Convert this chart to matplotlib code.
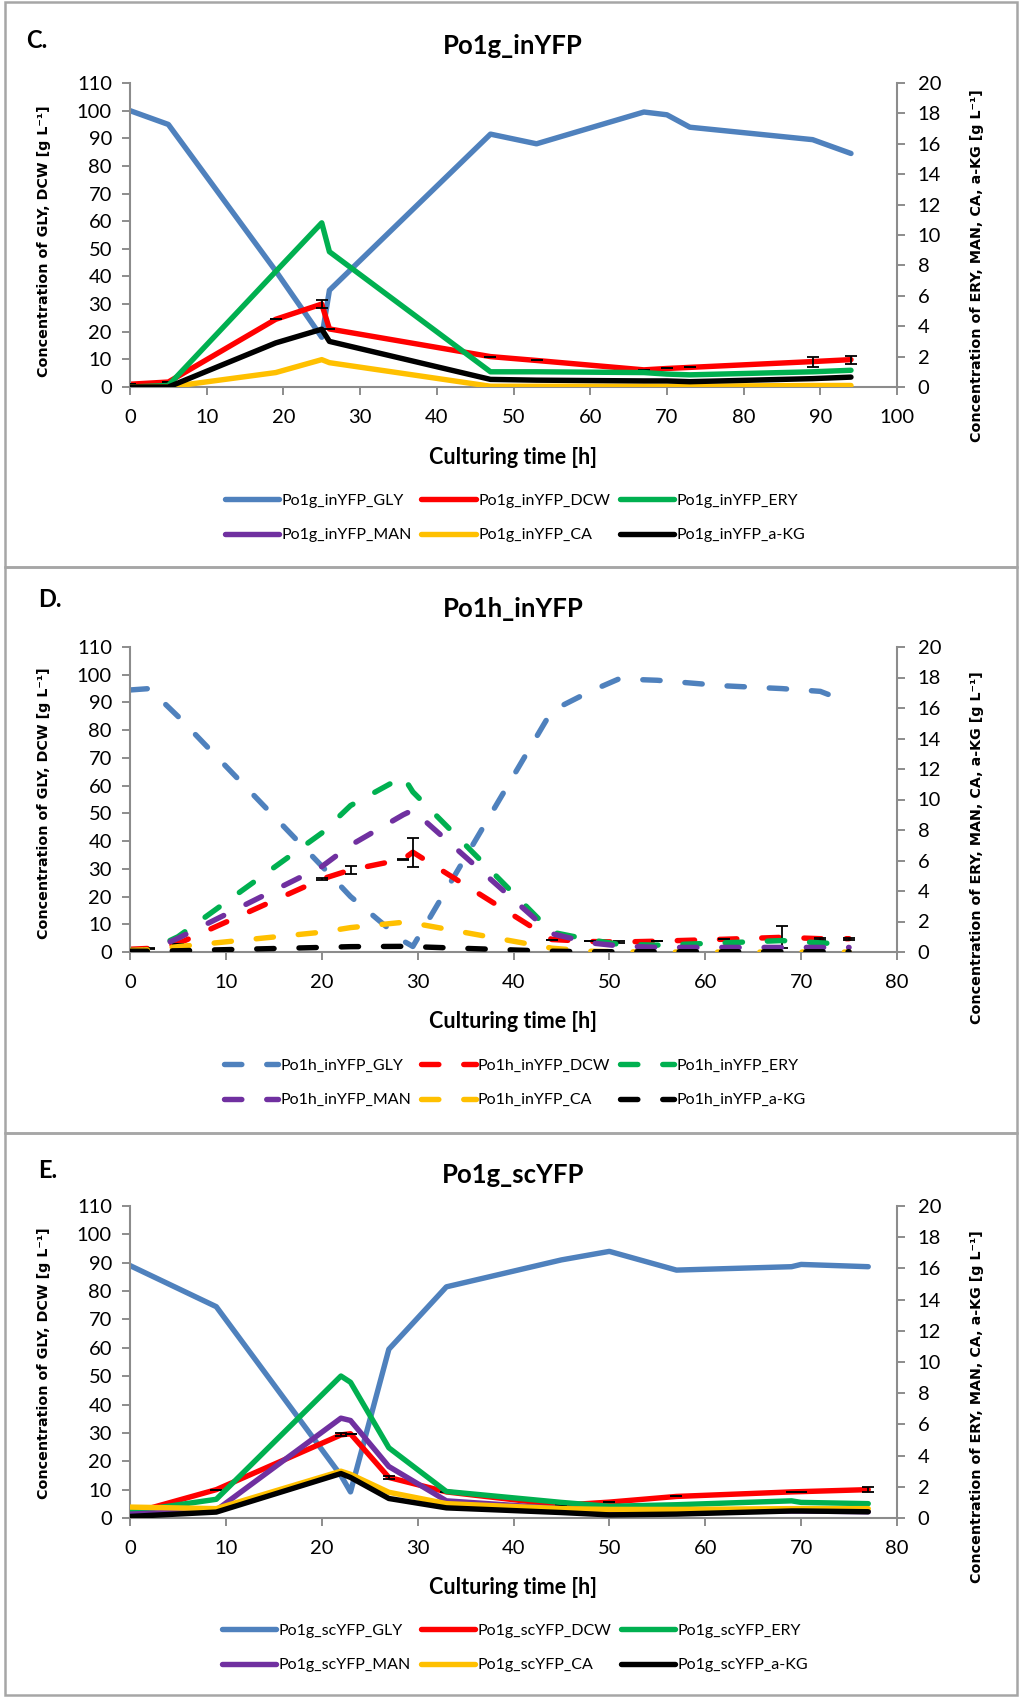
"""
Po1g / Po1h culture time courses (panels C, D, E).
GLY and DCW on the left axis, ERY / MAN / CA / a-KG on the right axis.
"""

import matplotlib
matplotlib.use("Agg")
import matplotlib.pyplot as plt
from matplotlib.lines import Line2D
from matplotlib.patches import Rectangle

plt.rcParams["font.family"] = ["Lato", "DejaVu Sans"]

W, H = 1021, 1697          # output size in pixels (dpi 100)

# Excel-ish default palette
COL_GLY = "#4F81BD"
COL_DCW = "#FF0000"
COL_ERY = "#00B050"
COL_MAN = "#7030A0"
COL_CA = "#FFC000"
COL_AKG = "#000000"
GREY = "#8C8C8C"

# ---------------------------------------------------------------------------
# Data
# ---------------------------------------------------------------------------

# C. Po1g_inYFP
time_C = [0, 5, 19, 25, 26, 47, 53, 67, 70, 73, 89, 94]
gly_C = [100, 95, 42, 18, 35, 91.5, 88, 99.5, 98.5, 94, 89.5, 84.5]
dcw_C = [1, 1.8, 24.5, 30, 21, 11, 9.6, 6.2, 6.7, 7.1, 9.2, 9.9]
dcw_err_C = [0, 0, 0, 1.5, 0, 0, 0, 0, 0, 0, 1.8, 1.4]
ery_C = [0, 0.1, 7.6, 10.8, 8.9, 1.0, 1.0, 0.95, 0.85, 0.8, 1.0, 1.1]
man_C = []                               # no MAN data in this culture
ca_C = [0, 0, 0.95, 1.8, 1.6, 0.05, 0.05, 0.05, 0.05, 0.05, 0.1, 0.1]
akg_C = [0, 0, 2.9, 3.8, 3.0, 0.5, 0.45, 0.4, 0.4, 0.35, 0.55, 0.65]

# D. Po1h_inYFP
time_D = [0, 2, 5, 20, 23, 28.5, 29.5, 44, 48, 51, 55, 62, 68, 72, 75]
gly_D = [94.5, 95, 85, 31, 20, 4, 2, 87, 94, 98.5, 98, 96, 95, 94, 90]
dcw_D = [1, 1.3, 3, 26.3, 29.6, 33.5, 36, 4.5, 3.8, 3.6, 3.9, 4.6, 5.3, 4.8, 4.8]
dcw_err_D = [0, 0.3, 0, 0.5, 1.4, 0.2, 5.2, 0, 0, 0.2, 0, 0, 4.0, 0.3, 0.4]
ery_D = [0.1, 0.1, 1.0, 7.8, 9.6, 11.5, 10.5, 1.3, 0.8, 0.5, 0.45, 0.6, 0.75, 0.6, 0.5]
man_D = [0, 0.05, 0.9, 5.6, 7.0, 9.0, 9.3, 1.2, 0.6, 0.4, 0.3, 0.3, 0.3, 0.3, 0.3]
ca_D = [0.1, 0.15, 0.35, 1.3, 1.6, 1.95, 1.9, 0.25, 0.05, 0.02, 0, 0, 0, 0, 0]
akg_D = [0.05, 0.05, 0.08, 0.3, 0.35, 0.37, 0.35, 0.05, 0.02, 0.02, 0.02, 0.02, 0.02, 0.02, 0.02]

# E. Po1g_scYFP
time_E = [0, 9, 22, 23, 27, 33, 45, 50, 57, 69, 70, 77]
gly_E = [89, 74.5, 15, 9.2, 59.5, 81.5, 91, 94, 87.4, 88.6, 89.4, 88.6]
dcw_E = [1.5, 10, 29.3, 29.7, 14.3, 9.2, 4.5, 5.6, 7.6, 9.2, 9.3, 10]
dcw_err_E = [0, 0, 0.5, 0, 0.6, 0, 0, 0, 0, 0, 0, 1.0]
ery_E = [0.4, 1.2, 9.1, 8.7, 4.5, 1.7, 1.0, 0.75, 0.85, 1.1, 1.0, 0.92]
man_E = [0.25, 0.5, 6.4, 6.25, 3.3, 1.1, 0.6, 0.45, 0.45, 0.45, 0.45, 0.4]
ca_E = [0.7, 0.6, 3.0, 2.8, 1.65, 0.92, 0.6, 0.55, 0.55, 0.6, 0.6, 0.6]
akg_E = [0.1, 0.38, 2.85, 2.6, 1.25, 0.65, 0.35, 0.2, 0.25, 0.45, 0.45, 0.4]

SUFFIXES = ["GLY", "DCW", "ERY", "MAN", "CA", "a-KG"]


# ---------------------------------------------------------------------------
# Helpers
# ---------------------------------------------------------------------------

def fx(px):
    return px / W


def fy(py):
    return 1 - py / H


def _panel(fig, letter, name, t, gly, dcw, dcw_err, ery, man, ca, akg,
           xmax, box, ax_top, ax_bot, letter_xy, title_y, xlabel_y,
           legend_y, ylab_left, ylab_right, dashed=False):
    x0, x1 = 130, 897
    ax = fig.add_axes([fx(x0), fy(ax_bot), fx(x1 - x0), (ax_bot - ax_top) / H])
    ax2 = ax.twinx()

    lw = 3.9
    style = dict(lw=lw, solid_capstyle="round", solid_joinstyle="round")
    if dashed:
        style = dict(lw=lw, dashes=(3.2, 4.6), dash_capstyle="round",
                     dash_joinstyle="round")

    ax.plot(t, gly, color=COL_GLY, **style)
    ax.plot(t, dcw, color=COL_DCW, **style)
    ax.errorbar(t, dcw, yerr=dcw_err, fmt="none", ecolor="black",
                elinewidth=1.3, capsize=4.3, capthick=1.3, zorder=4)

    ax2.plot(t, ery, color=COL_ERY, **style)
    if man:
        ax2.plot(t, man, color=COL_MAN, **style)
    ax2.plot(t, ca, color=COL_CA, **style)
    ax2.plot(t, akg, color=COL_AKG, **style)

    ax.set_xlim(0, xmax)
    ax.set_ylim(0, 110)
    ax2.set_ylim(0, 20)
    ax.set_xticks(range(0, xmax + 1, 10))
    ax.set_yticks(range(0, 111, 10))
    ax2.set_yticks(range(0, 21, 2))

    for a in (ax, ax2):
        for sp in a.spines.values():
            sp.set_visible(False)
        a.patch.set_visible(False)
    ax.spines["left"].set_visible(True)
    ax.spines["bottom"].set_visible(True)
    ax2.spines["right"].set_visible(True)
    for sp in (ax.spines["left"], ax.spines["bottom"], ax2.spines["right"]):
        sp.set_color(GREY)
        sp.set_linewidth(1.5)

    ax.tick_params(axis="x", direction="out", length=6, width=1.4,
                   color=GREY, labelsize=14.5, pad=10)
    ax.tick_params(axis="y", direction="out", length=6, width=1.4,
                   color=GREY, labelsize=14.5, pad=7)
    ax2.tick_params(axis="y", direction="out", length=6, width=1.4,
                    color=GREY, labelsize=14.5, pad=9)

    # frame around the panel
    fig.add_artist(Rectangle((fx(5), fy(box[1])), fx(1012), (box[1] - box[0]) / H,
                             transform=fig.transFigure, fill=False,
                             edgecolor="#A6A6A6", lw=1.8))

    fig.text(fx(letter_xy[0]), fy(letter_xy[1]), letter, fontsize=17,
             fontweight="bold", ha="left", va="center")
    fig.text(fx(513), fy(title_y), name, fontsize=18.5, fontweight="bold",
             ha="center", va="center")
    fig.text(fx(513), fy(xlabel_y), "Culturing time [h]", fontsize=15.5,
             fontweight="bold", ha="center", va="center")
    fig.text(fx(44), fy(ylab_left), "Concentration of GLY, DCW [g L⁻¹]",
             family="DejaVu Sans", fontsize=10.3, fontweight="bold",
             rotation=90, ha="center", va="center")
    fig.text(fx(977), fy(ylab_right),
             "Concentration of ERY, MAN, CA, a-KG [g L⁻¹]",
             family="DejaVu Sans", fontsize=10.3, fontweight="bold",
             rotation=90, ha="center", va="center")

    colours = [COL_GLY, COL_DCW, COL_ERY, COL_MAN, COL_CA, COL_AKG]
    handles = []
    for c, s in zip(colours, SUFFIXES):
        handles.append(Line2D([], [], color=c, label=f"{name}_{s}", **style))
    # matplotlib fills legend columns first: reorder to read row by row
    order = [0, 3, 1, 4, 2, 5]
    fig.legend(handles=[handles[i] for i in order], ncol=3, frameon=False,
               loc="center", bbox_to_anchor=(fx(515), fy(legend_y)),
               fontsize=11.5, handlelength=3.4, handletextpad=0.15,
               columnspacing=0.6, labelspacing=1.25)
    return ax, ax2


# ---------------------------------------------------------------------------
# Figure
# ---------------------------------------------------------------------------

fig = plt.figure(figsize=(W / 100, H / 100), dpi=100)

_panel(fig, "C.", "Po1g_inYFP", time_C, gly_C, dcw_C, dcw_err_C,
       ery_C, man_C, ca_C, akg_C, xmax=100, box=(2, 567),
       ax_top=83, ax_bot=387, letter_xy=(26, 41), title_y=46,
       xlabel_y=457, legend_y=518, ylab_left=241, ylab_right=266)

_panel(fig, "D.", "Po1h_inYFP", time_D, gly_D, dcw_D, dcw_err_D,
       ery_D, man_D, ca_D, akg_D, xmax=80, box=(567, 1133),
       ax_top=647, ax_bot=952, letter_xy=(38, 600), title_y=609,
       xlabel_y=1022, legend_y=1083, ylab_left=803, ylab_right=848,
       dashed=True)

_panel(fig, "E.", "Po1g_scYFP", time_E, gly_E, dcw_E, dcw_err_E,
       ery_E, man_E, ca_E, akg_E, xmax=80, box=(1133, 1695),
       ax_top=1206, ax_bot=1518, letter_xy=(38, 1170), title_y=1175,
       xlabel_y=1587, legend_y=1648, ylab_left=1363, ylab_right=1407)

fig.savefig("out.png", dpi=100)
plt.close(fig)
